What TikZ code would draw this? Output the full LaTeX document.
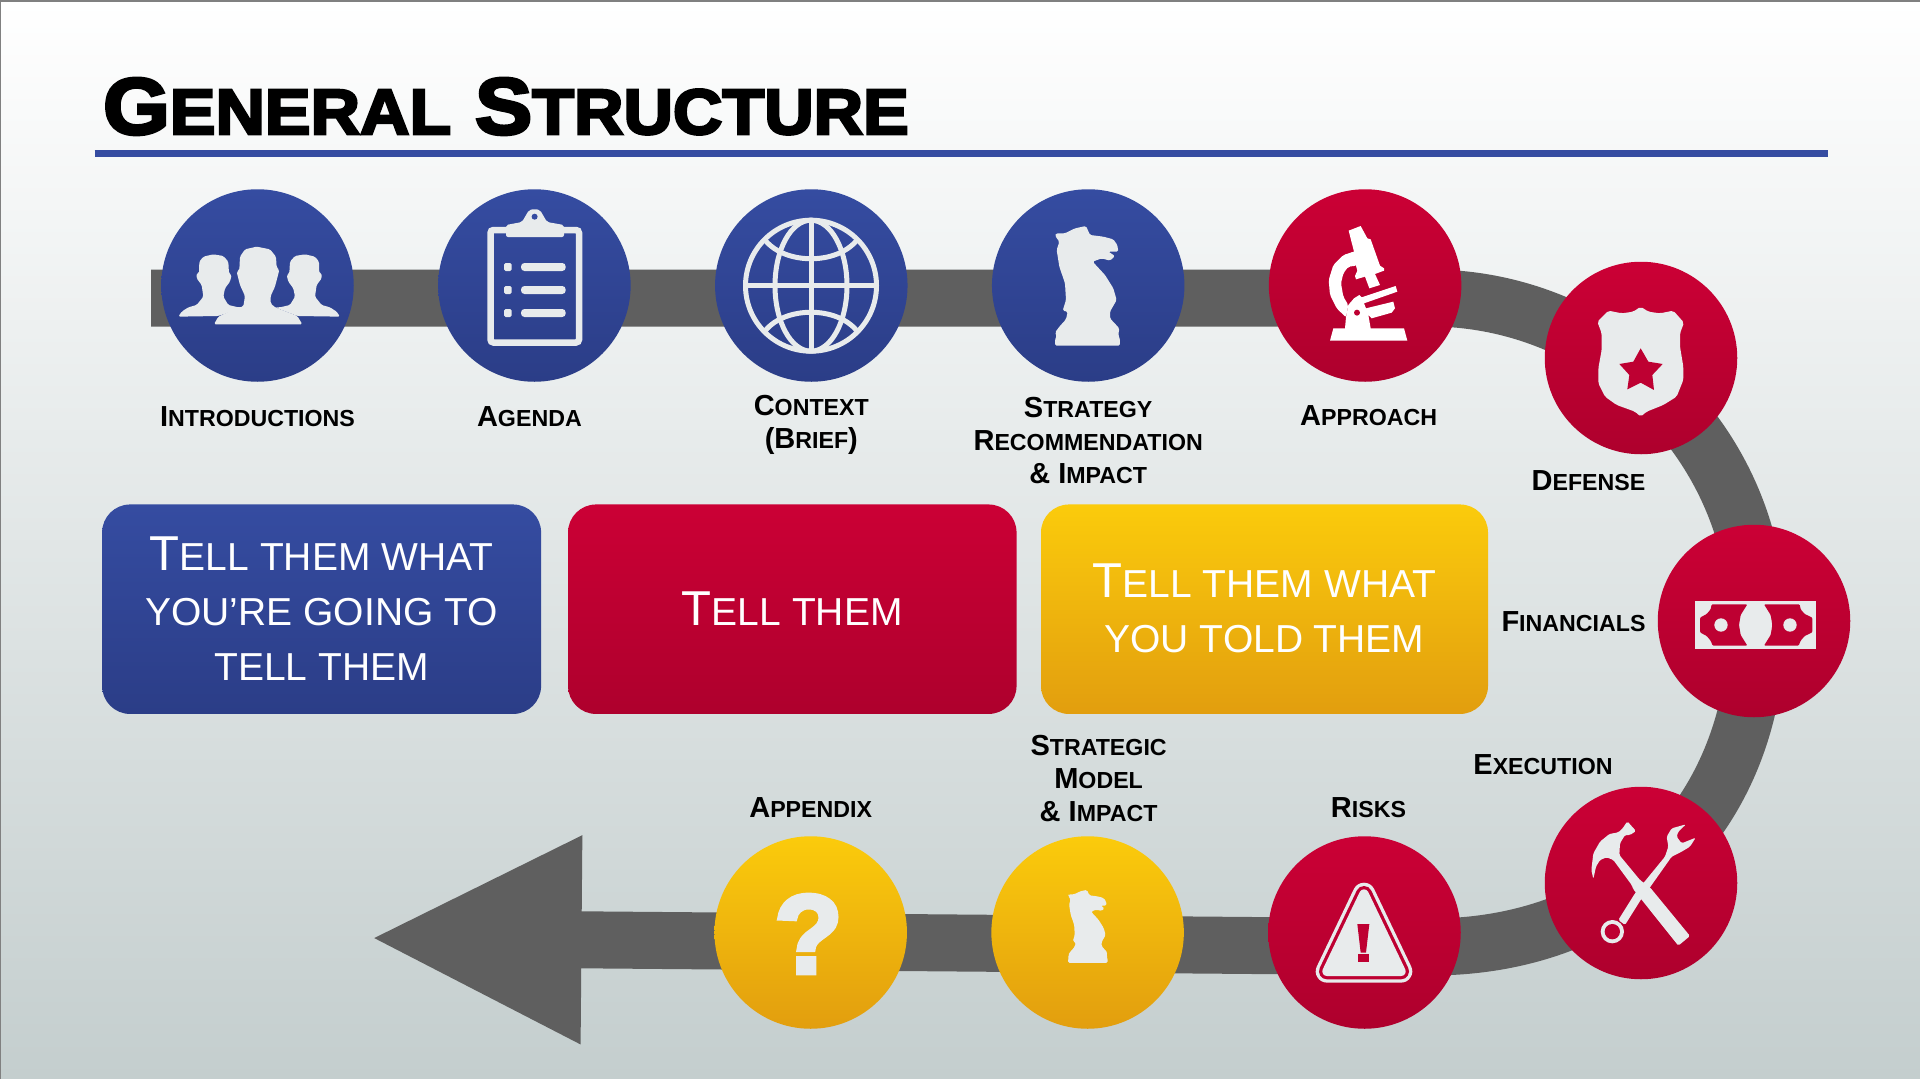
\documentclass[tikz,border=0pt]{standalone}
\usepackage{fontspec}
\usepackage{tikz}
\usetikzlibrary{arrows.meta,positioning}
\setmainfont{Liberation Sans}
\newfontfamily\titlefont{Liberation Sans Bold}[FakeBold=4,FakeStretch=1.07]
\newfontfamily\markfont{Liberation Sans Bold}[FakeBold=4]
\newfontfamily\labelfont{Liberation Sans Bold}
\newcommand{\titlelow}[1]{{\fontsize{64}{64}\selectfont\MakeUppercase{#1}}}
\newcommand{\lablow}[1]{{\fontsize{23.2}{33}\selectfont\MakeUppercase{#1}}}
\newcommand{\boxlow}[1]{{\fontsize{39}{55}\selectfont\MakeUppercase{#1}}}
\definecolor{navytop}{HTML}{354CA1}
\definecolor{navybot}{HTML}{2B3D87}
\definecolor{redtop}{HTML}{CB0035}
\definecolor{redbot}{HTML}{AE002D}
\definecolor{goldtop}{HTML}{FBCB0C}
\definecolor{goldbot}{HTML}{E29E0E}
\definecolor{roadgray}{HTML}{5F5F5F}
\definecolor{iconlight}{HTML}{E8EBEC}
\definecolor{cutred}{HTML}{BE0032}
\definecolor{slidemid}{HTML}{E4E8E9}
\definecolor{slidebot}{HTML}{C4CECE}
\newcommand{\knightpath}{(165,437) -- (165,418) -- (170,408) -- (165,398) -- (178,380) -- (198,358) -- (203,335) -- (188,332) -- (198,300) -- (195,250) -- (178,200) -- (170,150) -- (178,125) -- (165,107) -- (168,100) -- (195,100) -- (225,85) -- (258,78) -- (270,105) -- (310,110) -- (340,118) -- (352,135) -- (355,155) -- (325,155) -- (345,168) -- (330,182) -- (305,175) -- (278,185) -- (315,225) -- (340,265) -- (350,300) -- (330,335) -- (330,355) -- (358,385) -- (355,405) -- (360,418) -- (360,437) -- cycle}

\begin{document}
\begin{tikzpicture}[
  x=1pt,y=-1pt,
  ball/.style={circle,minimum size=192.5pt,inner sep=0pt},
  blueball/.style={ball,top color=navytop,bottom color=navybot},
  redball/.style={ball,top color=redtop,bottom color=redbot},
  goldball/.style={ball,top color=goldtop,bottom color=goldbot},
  panel/.style={rounded corners=28pt,minimum height=209.5pt,inner sep=0pt,align=center,
                text=white,text depth=1.2pt,font=\fontsize{49}{55}\selectfont},
  lab/.style={align=center,inner sep=0pt,font=\labelfont\fontsize{29}{33}\selectfont},
  road/.style={draw=roadgray,line width=57pt,-{Triangle[length=213pt,width=192pt]}},
  icon/.style={fill=iconlight,rounded corners=1.5pt},
  cut/.style={fill=cutred,rounded corners=1pt},
  iconat/.style={shift={(#1)},x=0.3333pt,y=-0.3333pt}]

\useasboundingbox (0,0) rectangle (1920,1079);
\path[top color=white,middle color=slidemid,bottom color=slidebot] (0,0) rectangle (1920,1079);
\draw[black!50,line width=1pt] (0.5,1079) -- (0.5,1) -- (1920,1);
\draw[black!50,line width=2pt] (0,1) -- (1920,1);

\node[anchor=base west,inner sep=0pt,font=\titlefont\fontsize{80}{80}\selectfont] (heading) at (103,134)
  {G\titlelow{eneral} S\titlelow{tructure}};
\draw[navytop,line width=7.5pt] (94.5,153.5) -- (1828,153.5);

\coordinate (roadin) at (151,298);
\coordinate (roadturn) at (1430,298);
\coordinate (roadback) at (1430,947);
\coordinate (roadout) at (368.5,938);
\draw[road] (roadin) -- (roadturn) .. controls (1608,298) and (1757,445) .. (1757,622)
  .. controls (1757,810) and (1628,947) .. (roadback) -- (roadout);

\node[blueball] (intro) at (257.5,285.5) {};
\node[blueball,right=84pt of intro] (agenda) {};
\node[blueball,right=84pt of agenda] (context) {};
\node[blueball,right=84pt of context] (strategy) {};
\node[redball,right=84pt of strategy] (approach) {};
\node[redball] (defense) at (1641,358) {};
\node[redball] (financials) at (1754,621) {};
\node[redball] (execution) at (1641,883) {};
\node[redball] (risks) at (1364.5,932.5) {};
\node[goldball,left=84pt of risks] (model) {};
\node[goldball,left=84pt of model] (appendix) {};

\node[lab,below=24.7pt of intro] (introlab) {I\lablow{ntroductions}};
\node[lab,below=24.7pt of agenda,xshift=-5pt] (agendalab) {A\lablow{genda}};
\node[lab,below=13pt of context] (contextlab) {C\lablow{ontext}\\(B\lablow{rief})};
\node[lab,below=14.7pt of strategy] (strategylab) {S\lablow{trategy}\\R\lablow{ecommendation}\\\& I\lablow{mpact}};
\node[lab,below=23.7pt of approach,xshift=3.6pt] (approachlab) {A\lablow{pproach}};
\node[lab,anchor=base] (defenselab) at (1588.5,490.8) {D\lablow{efense}};
\node[lab,anchor=base] (financelab) at (1573.5,631.9) {F\lablow{inancials}};
\node[lab,anchor=base] (executionlab) at (1543,774) {E\lablow{xecution}};
\node[lab,above=18.1pt of risks,xshift=4pt] (riskslab) {R\lablow{isks}};
\node[lab,above=14pt of model,xshift=11pt] (modellab) {S\lablow{trategic}\\M\lablow{odel}\\\& I\lablow{mpact}};
\node[lab,above=18.1pt of appendix] (appendixlab) {A\lablow{ppendix}};

\node[panel,minimum width=439pt,top color=navytop,bottom color=navybot] (tellahead) at (321.6,609.2)
  {T\boxlow{ell them what}\\\boxlow{you’re going to}\\\boxlow{tell them}};
\node[panel,minimum width=448.5pt,top color=redtop,bottom color=redbot] (tell) at (792.3,609.2)
  {T\boxlow{ell them}};
\node[panel,minimum width=447pt,top color=goldtop,bottom color=goldbot] (tellback) at (1264.5,609.2)
  {T\boxlow{ell them what}\\\boxlow{you told them}};

\begin{scope}[iconat={160,190}]
  \fill[icon] (55,380) -- (65,365) -- (85,352) -- (110,345) -- (130,320) -- (125,285) -- (110,265) -- (110,250) -- (117,250) -- (118,215) -- (130,200) -- (160,193) -- (190,198) -- (205,215) -- (207,250) -- (215,255) -- (210,275) -- (195,295) -- (190,320) -- (205,345) -- (235,352) -- (250,352) -- (175,378) -- cycle;
  \fill[icon] (540,380) -- (530,365) -- (510,352) -- (485,345) -- (465,320) -- (470,285) -- (485,265) -- (485,250) -- (478,250) -- (477,215) -- (465,200) -- (435,193) -- (405,198) -- (390,215) -- (388,250) -- (380,255) -- (385,275) -- (400,295) -- (405,320) -- (390,345) -- (360,352) -- (345,352) -- (412,378) -- cycle;
  \fill[icon] (162,403) -- (175,380) -- (235,352) -- (250,350) -- (255,318) -- (240,285) -- (230,245) -- (238,240) -- (240,200) -- (255,178) -- (290,170) -- (330,178) -- (348,200) -- (350,232) -- (358,240) -- (345,290) -- (332,318) -- (332,340) -- (345,352) -- (412,378) -- (427,403) -- cycle;
\end{scope}

\draw[iconlight,line width=6.5pt,rounded corners=3pt] (490.5,230) rectangle (579,342.5);
\fill[iconlight,rounded corners=2pt] (506,237) -- (506,225) -- (522,222) -- (529,210) -- (534.6,209) -- (540,210) -- (547,222) -- (564,225) -- (564,237) -- cycle;
\fill[navytop] (534.6,216.7) circle (3);
\foreach \rowy in {267,290,313} {
  \fill[iconlight,rounded corners=1.5pt] (504,\rowy-4) rectangle (511.6,\rowy+4);
  \fill[iconlight,rounded corners=3.5pt] (521,\rowy-4) rectangle (565.7,\rowy+4);
}

\draw[iconlight,line width=5pt] (811,285.7) circle (65.5);
\draw[iconlight,line width=5pt] (811,285.7) ellipse (36 and 65.5);
\draw[iconlight,line width=5pt] (811,220.2) -- (811,351.2);
\draw[iconlight,line width=5pt] (745.5,285.7) -- (876.5,285.7);
\draw[iconlight,line width=5pt] (765,240) .. controls (785,265) and (837,265) .. (857,240);
\draw[iconlight,line width=5pt] (765,331) .. controls (785,306) and (837,306) .. (857,331);

\begin{scope}[iconat={1000,200}]
  \fill[icon] \knightpath;
\end{scope}
\begin{scope}[shift={(1034.5,874)},x=0.2033pt,y=-0.2033pt]
  \fill[icon] \knightpath;
\end{scope}

\begin{scope}[iconat={1280,200}]
  \fill[white] (206,92) -- (242,78) -- (262,115) -- (272,118) -- (300,197) -- (312,205) -- (312,212) -- (285,222) -- (300,255) -- (268,265) -- (255,230) -- (228,238) -- (225,228) -- (232,212) -- (228,197) -- (212,158) -- (222,155) -- cycle;
  \fill[white,rounded corners=2pt] (222,155) -- (190,165) -- (160,195) -- (146,240) -- (150,285) -- (170,325) -- (198,352) -- (205,315) -- (190,290) -- (183,250) -- (190,220) -- (205,200) -- (230,197) -- cycle;
  \fill[white] (150,422) -- (160,385) -- (195,385) -- (198,352) -- (205,315) -- (222,295) -- (238,285) -- (245,292) -- (347,258) -- (352,275) -- (252,310) -- (258,325) -- (340,305) -- (345,325) -- (335,338) -- (275,355) -- (265,345) -- (272,385) -- (372,385) -- (382,422) -- cycle;
  \fill[cutred] (231,338) circle (9);
\end{scope}

\begin{scope}[iconat={1570,290}]
  \fill[icon,rounded corners=2pt] (212,50) -- (235,65) -- (270,70) -- (310,62) -- (342,98) -- (330,130) -- (330,170) -- (340,230) -- (340,270) -- (320,320) -- (280,345) -- (230,365) -- (212,380) -- (195,365) -- (140,345) -- (105,320) -- (85,280) -- (85,235) -- (95,180) -- (95,130) -- (82,95) -- (115,62) -- (155,70) -- (190,65) -- cycle;
  \fill[cutred] (212,175) -- (235,215) -- (278,222) -- (247,255) -- (252,300) -- (212,278) -- (172,298) -- (178,255) -- (148,222) -- (190,215) -- cycle;
\end{scope}

\begin{scope}[iconat={1670,570}]
  \fill[iconlight] (76,92) rectangle (438,238);
  \fill[cut] (125,103) -- (232,103) -- (212,135) -- (207,165) -- (212,195) -- (232,227) -- (128,227) -- (122,212) -- (110,198) -- (90,187) -- (90,143) -- (110,132) -- (122,118) -- cycle;
  \fill[cut] (389,103) -- (282,103) -- (302,135) -- (307,165) -- (302,195) -- (282,227) -- (386,227) -- (392,212) -- (404,198) -- (427,187) -- (427,143) -- (404,132) -- (392,118) -- cycle;
  \fill[iconlight] (153,165) circle (20);
  \fill[iconlight] (360,165) circle (20);
\end{scope}

\begin{scope}[iconat={1550,800}]
  \fill[icon] (232,64) -- (258,93) -- (240,105) -- (225,105) -- (210,130) -- (208,165) -- (270,240) -- (300,262) -- (420,408) -- (385,437) -- (250,268) -- (245,255) -- (190,180) -- (170,172) -- (150,180) -- (138,200) -- (130,237) -- (124,210) -- (130,160) -- (150,125) -- (178,102) -- (205,97) -- (218,85) -- cycle;
  \fill[icon] (205,360) -- (255,280) -- (345,170) -- (355,140) -- (350,110) -- (365,85) -- (408,73) -- (385,95) -- (380,110) -- (395,130) -- (437,113) -- (420,140) -- (395,155) -- (365,170) -- (300,262) -- (272,300) -- (225,375) -- cycle;
  \fill[iconlight] (187,395) circle (35);
  \fill[cutred] (187,395) circle (23);
\end{scope}

\begin{scope}[iconat={1290,860}]
  \draw[iconlight,fill=iconlight,line width=22.6pt,line join=round] (222,102) -- (333,334) -- (111,334) -- cycle;
  \draw[cutred,fill=cutred,line width=16pt,line join=round] (222,102) -- (333,334) -- (111,334) -- cycle;
  \draw[iconlight,fill=iconlight,line width=9.4pt,line join=round] (222,102) -- (333,334) -- (111,334) -- cycle;
  \fill[cutred] (202,192) -- (238,192) -- (228,278) -- (212,278) -- cycle;
  \fill[cutred] (204,282) rectangle (236,305);
\end{scope}

\node[text=iconlight,inner sep=0pt,font=\markfont\fontsize{112}{112}\selectfont] (qmark) at (808.5,934) {?};
\end{tikzpicture}
\end{document}
